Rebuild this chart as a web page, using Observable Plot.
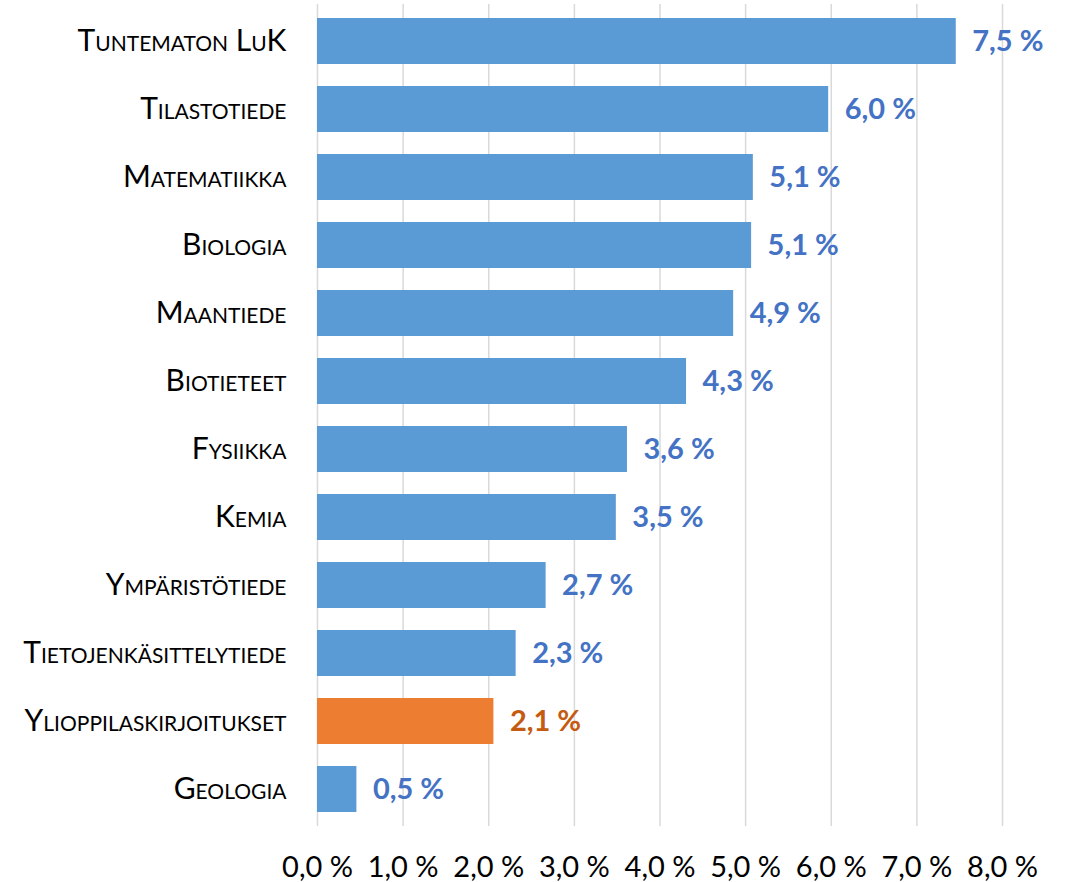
<!DOCTYPE html>
<html>
<head>
<meta charset="utf-8">
<script src="https://cdn.jsdelivr.net/npm/d3@7"></script>
<script src="https://cdn.jsdelivr.net/npm/@observablehq/plot@0.6"></script>
<style>
  body { margin: 0; background: #fff; }
  #chart svg g[aria-label="y-axis tick label"] text { font-variant: small-caps; }
</style>
</head>
<body>
<div id="chart"></div>
<script>
const categories = ["Tuntematon LuK", "Tilastotiede", "Matematiikka", "Biologia", "Maantiede", "Biotieteet", "Fysiikka", "Kemia", "Ympäristötiede", "Tietojenkäsittelytiede", "Ylioppilaskirjoitukset", "Geologia"];
const values = [7.46, 5.97, 5.09, 5.07, 4.86, 4.31, 3.62, 3.49, 2.67, 2.32, 2.06, 0.46];
const highlighted = ["Ylioppilaskirjoitukset"];
const xTicks = [0, 1, 2, 3, 4, 5, 6, 7, 8];

const data = categories.map((c, i) => ({category: c, value: values[i], hl: highlighted.includes(c)}));
const fmt = v => v.toFixed(1).replace(".", ",") + "\u00a0%";

const chart = Plot.plot({
  width: 1066,
  height: 882,
  marginLeft: 317,
  marginRight: 64,
  marginTop: 4,
  marginBottom: 56,
  style: {fontFamily: "Lato, sans-serif", background: "#fff"},
  x: {domain: [0, 8]},
  y: {domain: categories, paddingInner: 0.327, paddingOuter: 0.163},
  marks: [
    Plot.gridX(xTicks, {stroke: "#d9d9d9", strokeOpacity: 1, strokeWidth: 1.5}),
    Plot.barX(data, {y: "category", x: "value", fill: d => d.hl ? "#ED7D31" : "#5B9BD5"}),
    Plot.text(data, {y: "category", x: "value", text: d => fmt(d.value), dx: 16, textAnchor: "start",
      fill: d => d.hl ? "#C55A11" : "#4472C4", fontWeight: "bold", fontSize: 29}),
    Plot.axisY({tickSize: 0, tickPadding: 31, fontSize: 30, fill: "#000", label: null}),
    Plot.axisX(xTicks, {tickSize: 0, tickPadding: 30, fontSize: 29, fill: "#000", tickFormat: fmt, label: null})
  ]
});
document.getElementById("chart").appendChild(chart);
</script>
</body>
</html>
